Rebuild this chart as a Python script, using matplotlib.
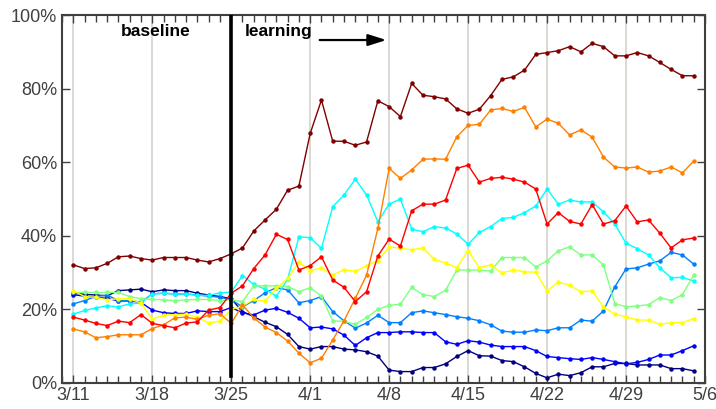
import numpy as np
import matplotlib
matplotlib.use("Agg")
import matplotlib.pyplot as plt
from matplotlib.ticker import MultipleLocator, FuncFormatter

plt.rcParams['font.family'] = ['Liberation Sans', 'DejaVu Sans']

# dias desde 3/11 (0..55), valores en %
dias = np.arange(56)
etiquetas_x = ['3/11', '3/18', '3/25', '4/1', '4/8', '4/15', '4/22', '4/29', '5/6']
dia_corte = 14  # 3/25

navy = [24.4, 24.1, 23.9, 23.7, 25.1, 25.3, 25.5, 24.8, 25.3, 25.1,
        25.1, 24.4, 23.9, 23.5, 22.9, 19.4, 18.0, 16.5, 15.3, 13.2,
        9.9, 9.2, 9.9, 9.9, 9.2, 9.0, 8.5, 7.3, 3.5, 3.1,
        3.1, 4.2, 4.2, 5.2, 7.2, 8.8, 7.4, 7.3, 6.1, 5.8,
        4.4, 2.6, 1.4, 2.4, 2.0, 2.8, 4.4, 4.4, 5.3, 5.3,
        4.9, 4.9, 4.9, 3.9, 3.9, 3.3]
azul = [24.0, 23.6, 23.3, 23.0, 22.3, 22.3, 21.9, 19.8, 19.1, 18.9,
        18.9, 19.6, 19.4, 19.4, 20.5, 19.1, 18.5, 19.8, 20.3, 19.2,
        17.6, 15.0, 15.2, 14.7, 13.0, 10.2, 12.3, 13.7, 13.7, 13.9,
        13.9, 13.7, 13.7, 11.2, 10.5, 11.5, 11.1, 10.3, 9.9, 9.9,
        9.9, 8.8, 7.2, 6.9, 6.6, 6.4, 6.9, 6.4, 5.8, 5.2,
        5.6, 6.4, 7.6, 7.6, 8.8, 10.1]
azul_claro = [21.5, 22.4, 23.5, 23.9, 22.4, 22.4, 22.0, 24.2, 24.4, 24.2,
              24.2, 23.9, 23.6, 23.3, 22.6, 20.7, 22.4, 24.5, 25.9, 25.3,
              21.8, 22.4, 23.5, 19.4, 16.9, 14.9, 16.3, 18.4, 16.4, 16.4,
              19.1, 19.6, 19.1, 18.6, 18.0, 17.6, 16.9, 15.8, 14.1, 13.8,
              13.8, 14.4, 14.2, 15.0, 15.0, 17.1, 16.8, 19.6, 26.1, 31.0,
              31.3, 32.3, 33.2, 35.5, 34.8, 32.3]
cian = [18.7, 19.7, 20.4, 21.0, 20.7, 21.5, 21.7, 24.2, 24.4, 24.2,
        24.2, 23.8, 23.8, 24.5, 24.7, 29.2, 26.8, 25.5, 23.6, 28.2,
        39.7, 39.5, 36.6, 47.9, 51.1, 55.4, 51.1, 43.8, 48.6, 50.0,
        41.8, 41.1, 42.5, 42.1, 40.5, 37.7, 40.9, 42.5, 44.7, 45.0,
        46.3, 48.1, 52.7, 48.6, 49.7, 49.2, 49.2, 46.5, 43.2, 38.0,
        36.5, 34.8, 31.3, 28.6, 28.7, 27.7]
verde = [24.6, 24.6, 24.6, 24.6, 24.6, 23.5, 22.9, 22.7, 22.6, 22.4,
         22.6, 22.7, 22.7, 22.4, 22.6, 22.1, 26.4, 26.4, 26.4, 26.2,
         24.8, 25.9, 23.6, 16.8, 16.8, 15.9, 17.8, 20.0, 21.1, 21.4,
         26.0, 24.0, 23.5, 25.2, 30.7, 30.7, 30.7, 30.4, 34.1, 34.1,
         34.1, 31.5, 33.2, 35.9, 37.0, 34.8, 34.8, 32.1, 21.6, 20.7,
         20.9, 21.3, 23.2, 22.4, 24.0, 29.3]
amarillo = [25.0, 23.5, 23.3, 22.6, 22.9, 22.9, 21.7, 17.4, 18.4, 18.6,
            18.7, 17.9, 16.3, 16.8, 20.0, 20.9, 22.7, 22.3, 25.7, 28.4,
            32.8, 30.5, 31.3, 29.3, 30.8, 30.3, 31.9, 33.2, 37.0, 36.6,
            36.2, 36.7, 33.6, 32.6, 31.3, 36.0, 31.3, 32.1, 29.9, 30.7,
            30.2, 30.1, 25.0, 27.4, 26.6, 24.8, 25.0, 20.7, 18.7, 18.0,
            17.1, 17.1, 15.9, 16.4, 16.4, 17.5]
naranja = [14.7, 13.9, 12.3, 12.6, 13.1, 13.1, 13.1, 14.8, 15.8, 17.7,
           17.9, 17.3, 18.4, 18.8, 16.2, 21.2, 17.7, 15.2, 13.7, 11.4,
           8.1, 5.5, 6.7, 11.7, 16.9, 23.0, 29.3, 42.0, 58.3, 55.6,
           57.9, 60.8, 60.9, 60.8, 66.9, 70.0, 70.3, 74.2, 74.6, 73.8,
           74.9, 69.6, 71.7, 70.6, 67.4, 68.8, 66.8, 61.4, 58.7, 58.4,
           58.7, 57.3, 57.6, 58.7, 57.1, 60.3]
rojo = [17.9, 17.1, 16.2, 15.6, 16.8, 16.4, 18.6, 16.2, 15.6, 15.0,
        16.3, 16.6, 19.8, 20.5, 24.4, 26.4, 31.1, 34.8, 40.4, 39.0,
        30.7, 31.9, 34.3, 28.0, 26.0, 22.1, 24.8, 34.5, 39.1, 37.2,
        46.8, 48.6, 48.6, 49.7, 58.3, 59.2, 54.6, 55.6, 55.9, 55.4,
        54.6, 52.7, 43.2, 46.3, 43.9, 43.2, 48.5, 43.2, 44.1, 48.1,
        43.8, 44.3, 40.7, 36.7, 38.9, 39.4]
granate = [32.1, 31.1, 31.3, 32.5, 34.3, 34.5, 33.8, 33.4, 34.1, 34.1,
           34.1, 33.4, 32.9, 33.8, 35.1, 36.7, 41.3, 44.3, 47.2, 52.4,
           53.5, 67.8, 76.9, 65.7, 65.7, 64.6, 65.5, 76.7, 75.1, 72.4,
           81.4, 78.2, 77.8, 77.2, 74.5, 73.3, 74.4, 78.1, 82.5, 83.2,
           85.0, 89.3, 89.8, 90.3, 91.4, 90.0, 92.3, 91.4, 88.9, 88.9,
           89.8, 88.9, 87.1, 85.2, 83.5, 83.5]

series = [navy, azul, azul_claro, cian, verde, amarillo, naranja, rojo, granate]
colores = ['#000080', '#0000ff', '#0080ff', '#00ffff', '#80ff80',
           '#ffff00', '#ff8000', '#ff0000', '#800000']

fig = plt.figure(figsize=(7.16, 4.09), dpi=100)
ax = fig.add_axes([0.0866, 0.0636, 0.8980, 0.8997])

for valores, color in zip(series, colores):
    ax.plot(dias, valores, color=color, lw=1.0, marker='o', ms=3.2,
            markeredgewidth=0, zorder=3)

ax.axvline(dia_corte, ymin=0.02, ymax=1, color='black', lw=2.6, zorder=4)

ax.set_xlim(-1, 56)
ax.set_ylim(0, 100)
ax.set_xticks(np.arange(0, 57, 7))
ax.set_xticklabels(etiquetas_x)
ax.xaxis.set_minor_locator(MultipleLocator(1))
ax.yaxis.set_major_locator(MultipleLocator(20))
ax.yaxis.set_major_formatter(FuncFormatter(lambda v, p: f"{v:.0f}%"))
ax.grid(axis='x', which='major', color='#d9d5cf', lw=1.3, zorder=0)

ax.tick_params(which='both', direction='in', top=True, right=True,
               labelsize=13, labelcolor='#404040', color='#404040')
ax.tick_params(which='major', length=6, width=1)
ax.tick_params(which='minor', length=5, width=1)
ax.tick_params(axis='x', pad=3)
for s in ax.spines.values():
    s.set_color('#404040')
    s.set_linewidth(1.5)

ax.text(7.3, 95.4, 'baseline', fontsize=12.5, fontweight='bold',
        ha='center', va='center')
ax.text(18.2, 95.4, 'learning', fontsize=12.5, fontweight='bold',
        ha='center', va='center')
ax.annotate('', xy=(28, 93.2), xytext=(21.6, 93.2),
            arrowprops=dict(arrowstyle='-|>,head_length=1.1,head_width=0.35',
                            color='black', lw=1.6))

fig.savefig('out.png', dpi=100)
